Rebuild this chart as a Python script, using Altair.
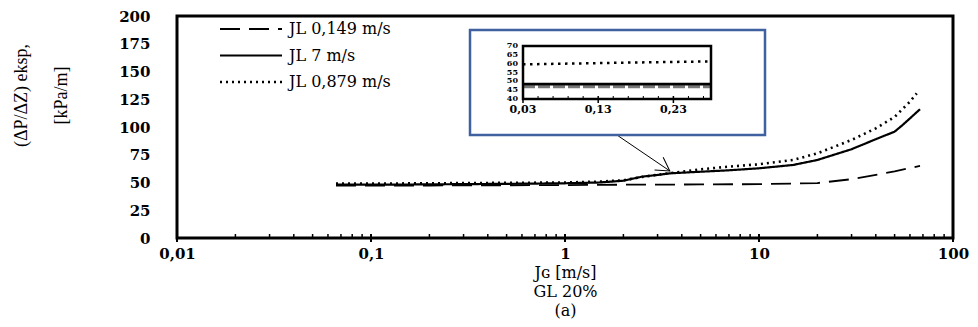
import altair as alt
import pandas as pd

# ---------------- data ----------------
series = ["JL 0,149 m/s", "JL 7 m/s", "JL 0,879 m/s"]

x_dashed = [0.066, 0.1, 0.2, 0.5, 1, 2, 3, 5, 10, 20, 30, 50, 67.6]
y_dashed = [47.2, 47.2, 47.3, 47.5, 47.7, 48, 48, 48.3, 48.5, 49.5, 53, 60, 65]

x_solid = [0.066, 0.1, 0.2, 0.5, 1, 1.5, 2, 2.5, 3, 3.5, 5, 7, 10, 15, 20, 30, 40, 50, 55, 67.6]
y_solid = [48, 48, 48.3, 48.8, 49.3, 50, 51.6, 55.3, 56.8, 58.3, 59.7, 61, 62.8, 65.8, 70.3, 80, 89, 95.8, 101.8, 116]

x_dotted = [0.066, 0.1, 0.2, 0.5, 1, 1.5, 2, 2.5, 3, 3.5, 5, 7, 10, 15, 20, 30, 40, 50, 60, 65]
y_dotted = [49, 49, 49.3, 49.7, 50, 50.8, 52, 55, 57, 58.5, 61.9, 64.3, 66.4, 70.3, 76.3, 88.3, 98.8, 109, 122.8, 130.3]

x_major_ticks = [0.01, 0.1, 1, 10, 100]
x_minor_ticks = [0.02, 0.03, 0.04, 0.05, 0.06, 0.07, 0.08, 0.09,
                 0.2, 0.3, 0.4, 0.5, 0.6, 0.7, 0.8, 0.9,
                 2, 3, 4, 5, 6, 7, 8, 9,
                 20, 30, 40, 50, 60, 70, 80, 90]
y_ticks = [0, 25, 50, 75, 100, 125, 150, 175, 200]

# inset
inset_x = [0.03, 0.155, 0.28]
inset_dashed = [47.0, 47.0, 47.0]
inset_solid = [48.4, 48.4, 48.4]
inset_dotted = [59.6, 60.5, 61.3]
inset_x_domain = [0.03, 0.28]
inset_y_domain = [40, 70]
inset_major = [0.03, 0.13, 0.23]
inset_major_labels = ["0,03", "0,13", "0,23"]
inset_minor = [0.05, 0.07, 0.09, 0.11, 0.15, 0.17, 0.19, 0.21, 0.25, 0.27]
inset_y_ticks = [40, 45, 50, 55, 60, 65, 70]

# arrow (main data coordinates)
arrow_start = [1.88, 92]
arrow_end = [3.47, 60.4]

# ---------------- tables ----------------
main_df = pd.concat([
    pd.DataFrame({"x": x_dashed, "y": y_dashed, "series": series[0]}),
    pd.DataFrame({"x": x_solid, "y": y_solid, "series": series[1]}),
    pd.DataFrame({"x": x_dotted, "y": y_dotted, "series": series[2]}),
])
inset_df = pd.concat([
    pd.DataFrame({"ix": inset_x, "iy": inset_dashed, "series": series[0]}),
    pd.DataFrame({"ix": inset_x, "iy": inset_solid, "series": series[1]}),
    pd.DataFrame({"ix": inset_x, "iy": inset_dotted, "series": series[2]}),
])

W, H = 776, 222
SERIF = "DejaVu Serif"

xscale = alt.Scale(type="log", domain=[0.01, 100], nice=False)
yscale = alt.Scale(domain=[0, 200], nice=False, zero=False)
dash_scale = alt.Scale(domain=series, range=[[20, 9], [1, 0], [2, 4]])
width_scale = alt.Scale(domain=series, range=[1.8, 2.6, 2.6])

xaxis = alt.Axis(values=x_major_ticks, ticks=False, domain=False, grid=False,
                 labelExpr="replace(toString(datum.value), '.', ',')",
                 labelFont=SERIF, labelFontWeight="bold", labelFontSize=15, labelColor="black",
                 labelFlush=False, labelOverlap=False, labelPadding=8,
                 title=["J\u0262 [m/s]", "GL 20%", "(a)"],
                 titleFont=SERIF, titleFontWeight="normal", titleFontSize=16, titleColor="black",
                 titleLineHeight=19, titleBaseline="top", titleY=26)
yaxis = alt.Axis(values=y_ticks, ticks=False, domain=False, grid=False,
                 labelFont=SERIF, labelFontWeight="bold", labelFontSize=15, labelColor="black",
                 labelFlush=False, labelOverlap=False, labelPadding=27,
                 title=["(\u0394P/\u0394Z) eksp,", "[kPa/m]"],
                 titleFont="Liberation Serif", titleFontWeight="normal", titleColor="black",
                 titleFontSize=18, titleLineHeight=40, titleAngle=270,
                 titleBaseline="top", titleAlign="center",
                 titleX=-165, titleY=79)

lines = alt.Chart(main_df).mark_line(color="black").encode(
    x=alt.X("x:Q", scale=xscale, axis=xaxis),
    y=alt.Y("y:Q", scale=yscale, axis=yaxis),
    strokeDash=alt.StrokeDash("series:N", scale=dash_scale, legend=None),
    strokeWidth=alt.StrokeWidth("series:N", scale=width_scale, legend=None),
    order=alt.Order("x:Q"),
)

minor_rules = alt.Chart(pd.DataFrame({"x": x_minor_ticks})).mark_rule(
    color="black", strokeWidth=1.5).encode(
    x=alt.X("x:Q", scale=xscale, axis=xaxis),
    y=alt.value(H), y2=alt.value(H - 4),
)
major_rules = alt.Chart(pd.DataFrame({"x": x_major_ticks})).mark_rule(
    color="black", strokeWidth=2).encode(
    x=alt.X("x:Q", scale=xscale, axis=xaxis),
    y=alt.value(H + 4), y2=alt.value(H - 4),
)

arrow_df = pd.DataFrame({"x": [arrow_start[0]], "y": [arrow_start[1]],
                         "xe": [arrow_end[0]], "ye": [arrow_end[1]]})
arrow_line = alt.Chart(arrow_df).mark_rule(color="black", strokeWidth=1).encode(
    x=alt.X("x:Q", scale=xscale, axis=xaxis),
    y=alt.Y("y:Q", scale=yscale, axis=yaxis),
    x2="xe:Q", y2="ye:Q",
)
arrow_head = alt.Chart(arrow_df).mark_point(
    shape="M -1 -0.58 L 0 0 L -1 0.58", filled=False, stroke="black",
    strokeWidth=1, size=700, angle=34, opacity=1).encode(
    x=alt.X("xe:Q", scale=xscale, axis=xaxis),
    y=alt.Y("ye:Q", scale=yscale, axis=yaxis),
)

main_group = alt.layer(lines, minor_rules, major_rules, arrow_line, arrow_head)

# blue inset box
box = alt.Chart(pd.DataFrame({"a": [0]})).mark_rect(
    fill="white", stroke="#3f61a0", strokeWidth=2.5).encode(
    x=alt.value(293), x2=alt.value(588), y=alt.value(14), y2=alt.value(119),
)

# inset plot
ixs = alt.Scale(domain=inset_x_domain, range=[346, 534], nice=False, zero=False)
iys = alt.Scale(domain=inset_y_domain, range=[83, 30], nice=False, zero=False)

inset_lines = alt.Chart(inset_df).mark_line().encode(
    x=alt.X("ix:Q", scale=ixs, axis=None),
    y=alt.Y("iy:Q", scale=iys, axis=None),
    color=alt.Color("series:N", scale=alt.Scale(domain=series, range=["#777777", "black", "black"]), legend=None),
    strokeDash=alt.StrokeDash("series:N", scale=alt.Scale(domain=series, range=[[12, 3], [1, 0], [2.5, 4.5]]), legend=None),
    strokeWidth=alt.StrokeWidth("series:N", scale=alt.Scale(domain=series, range=[3, 2.5, 3]), legend=None),
)
frame_df = pd.DataFrame({"ix": [inset_x_domain[0]], "ix2": [inset_x_domain[1]],
                         "iy": [inset_y_domain[0]], "iy2": [inset_y_domain[1]]})
inset_frame = alt.Chart(frame_df).mark_rect(fillOpacity=0, stroke="black", strokeWidth=2.5).encode(
    x=alt.X("ix:Q", scale=ixs, axis=None), x2="ix2:Q",
    y=alt.Y("iy:Q", scale=iys, axis=None), y2="iy2:Q",
)
inset_major_rules = alt.Chart(pd.DataFrame({"ix": inset_major})).mark_rule(color="black", strokeWidth=1.5).encode(
    x=alt.X("ix:Q", scale=ixs, axis=None), y=alt.value(87), y2=alt.value(80),
)
inset_minor_rules = alt.Chart(pd.DataFrame({"ix": inset_minor})).mark_rule(color="black", strokeWidth=1).encode(
    x=alt.X("ix:Q", scale=ixs, axis=None), y=alt.value(83), y2=alt.value(80),
)
inset_xlabels = alt.Chart(pd.DataFrame({"ix": inset_major, "lab": inset_major_labels})).mark_text(
    font=SERIF, fontWeight="bold", fontSize=11, baseline="top", align="center", color="black").encode(
    x=alt.X("ix:Q", scale=ixs, axis=None), y=alt.value(88), text="lab:N",
)
inset_ylabels = alt.Chart(pd.DataFrame({"iy": inset_y_ticks})).mark_text(
    font=SERIF, fontWeight="bold", fontSize=8, baseline="middle", align="right", color="black").encode(
    y=alt.Y("iy:Q", scale=iys, axis=None), x=alt.value(341), text="iy:Q",
)
inset_group = alt.layer(inset_lines, inset_frame, inset_major_rules, inset_minor_rules,
                        inset_xlabels, inset_ylabels)

# legend (drawn)
legend_df = pd.DataFrame({"series": series})
lys = alt.Scale(type="point", domain=series, range=[13, 66], padding=0)
leg_lines = alt.Chart(legend_df).mark_rule(color="black").encode(
    y=alt.Y("series:N", scale=lys, axis=None),
    x=alt.value(43), x2=alt.value(105),
    strokeDash=alt.StrokeDash("series:N", scale=dash_scale, legend=None),
    strokeWidth=alt.StrokeWidth("series:N", scale=width_scale, legend=None),
)
leg_text = alt.Chart(legend_df).mark_text(
    font=SERIF, fontSize=16, align="left", baseline="middle", color="black").encode(
    y=alt.Y("series:N", scale=lys, axis=None),
    x=alt.value(112), text="series:N",
)
legend_group = alt.layer(leg_lines, leg_text)

chart = alt.layer(main_group, box, inset_group, legend_group).resolve_scale(
    x="independent", y="independent", strokeDash="independent",
    strokeWidth="independent", color="independent",
).properties(
    width=W, height=H,
    background="white",
    padding={"left": 169, "top": 8, "right": 17, "bottom": 81},
    autosize=alt.AutoSizeParams(type="none"),
).configure_view(
    stroke="black", strokeWidth=3,
)

chart.save("out.html", embed_options={"renderer": "svg", "actions": False})
